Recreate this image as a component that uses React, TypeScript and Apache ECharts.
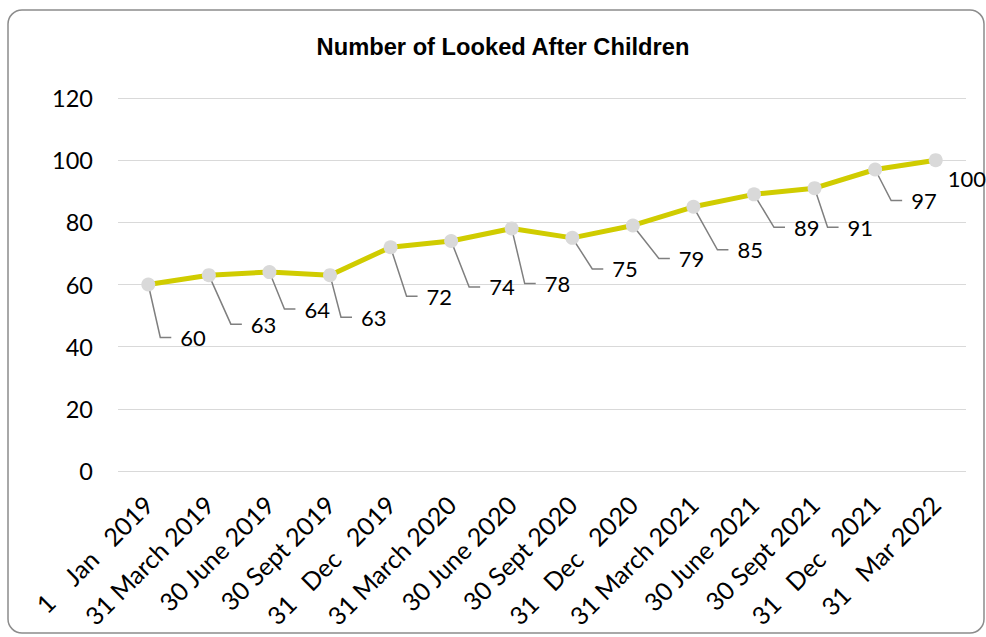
import React, { useEffect, useRef } from "react";
import * as echarts from "echarts";

const categories = [
  "1    Jan   2019",
  "31 March 2019",
  "30 June 2019",
  "30 Sept 2019",
  "31   Dec   2019",
  "31 March 2020",
  "30 June 2020",
  "30 Sept 2020",
  "31   Dec   2020",
  "31 March 2021",
  "30 June 2021",
  "30 Sept 2021",
  "31   Dec   2021",
  "31   Mar 2022",
];

const values = [60, 63, 64, 63, 72, 74, 78, 75, 79, 85, 89, 91, 97, 100];

const yTicks = { min: 0, max: 120, interval: 20 };

const titleText = "Number of Looked After Children";

// label placement relative to its point: [dx to label left, dy to label middle, showLeader]
const labelOffsets: [number, number, boolean][] = [
  [32, 53, true],
  [42, 49, true],
  [35, 37, true],
  [31, 42, true],
  [36, 49, true],
  [38, 46, true],
  [33, 55, true],
  [40, 31, true],
  [46, 33, true],
  [44, 43, true],
  [40, 33, true],
  [33, 39, true],
  [36, 31, true],
  [12, 18, false],
];

const FONT = "Lato, 'Open Sans', sans-serif";

export default function App() {
  const ref = useRef<HTMLDivElement>(null);
  useEffect(() => {
    if (!ref.current) return;
    const chart = echarts.init(ref.current, undefined, { renderer: "svg" });
    const option: any = {
      animation: false,
      backgroundColor: "#ffffff",
      textStyle: { fontFamily: FONT },
      grid: { left: 118, right: 20, top: 98, bottom: 166, containLabel: false },
      graphic: [
        {
          type: "rect",
          shape: { x: 8, y: 10, width: 976, height: 623, r: 14 },
          style: { fill: "none", stroke: "#8c8c8c", lineWidth: 1.5 },
          silent: true,
          z: 0,
        },
        {
          type: "text",
          x: 503,
          y: 47,
          style: {
            text: titleText,
            font: "bold 23.7px 'Liberation Sans', Arial, sans-serif",
            fill: "#000000",
            textAlign: "center",
            textVerticalAlign: "middle",
          },
        },
      ],
      xAxis: {
        type: "category",
        data: categories,
        boundaryGap: true,
        axisLine: { show: false },
        axisTick: { show: false },
        splitLine: { show: false },
        axisLabel: {
          interval: 0,
          rotate: 45,
          margin: 29,
          color: "#000000",
          fontSize: 25,
          fontFamily: FONT,
          formatter: (v: string) => v.replace(/ /g, "\u00A0"),
        },
      },
      yAxis: {
        type: "value",
        min: yTicks.min,
        max: yTicks.max,
        interval: yTicks.interval,
        axisLine: { show: false },
        axisTick: { show: false },
        axisLabel: { margin: 25, color: "#000000", fontSize: 23.5, fontFamily: FONT },
        splitLine: { lineStyle: { color: "#d9d9d9", width: 1.2 } },
      },
      series: [
        {
          type: "custom",
          z: 1,
          data: values.map((v, i) => [i, v]),
          encode: { x: 0, y: 1 },
          renderItem: (params: any, api: any) => {
            const i = api.value(0);
            const v = api.value(1);
            const p = api.coord([i, v]);
            const [dx, dy, lead] = labelOffsets[i];
            const lx = p[0] + dx;
            const ly = p[1] + dy;
            const children: any[] = [];
            if (lead) {
              children.push({
                type: "polyline",
                shape: { points: [[p[0], p[1]], [lx - 20, ly], [lx - 9, ly]] },
                style: { stroke: "#7f7f7f", lineWidth: 1.5, fill: "none" },
              });
            }
            children.push({
              type: "text",
              x: lx,
              y: ly,
              style: {
                text: String(v),
                font: `22px ${FONT}`,
                fill: "#000000",
                textAlign: "left",
                textVerticalAlign: "middle",
              },
            });
            return { type: "group", children };
          },
        },
        {
          type: "line",
          z: 3,
          data: values,
          symbol: "circle",
          symbolSize: 14,
          lineStyle: { color: "#d0cc00", width: 5 },
          itemStyle: { color: "#d9d9d9" },
          label: { show: false },
        },
      ],
    };
    chart.setOption(option);
    return () => chart.dispose();
  }, []);
  return (
    <div
      ref={ref}
      style={{ position: "absolute", left: 0, top: 0, width: 986, height: 637 }}
    />
  );
}
